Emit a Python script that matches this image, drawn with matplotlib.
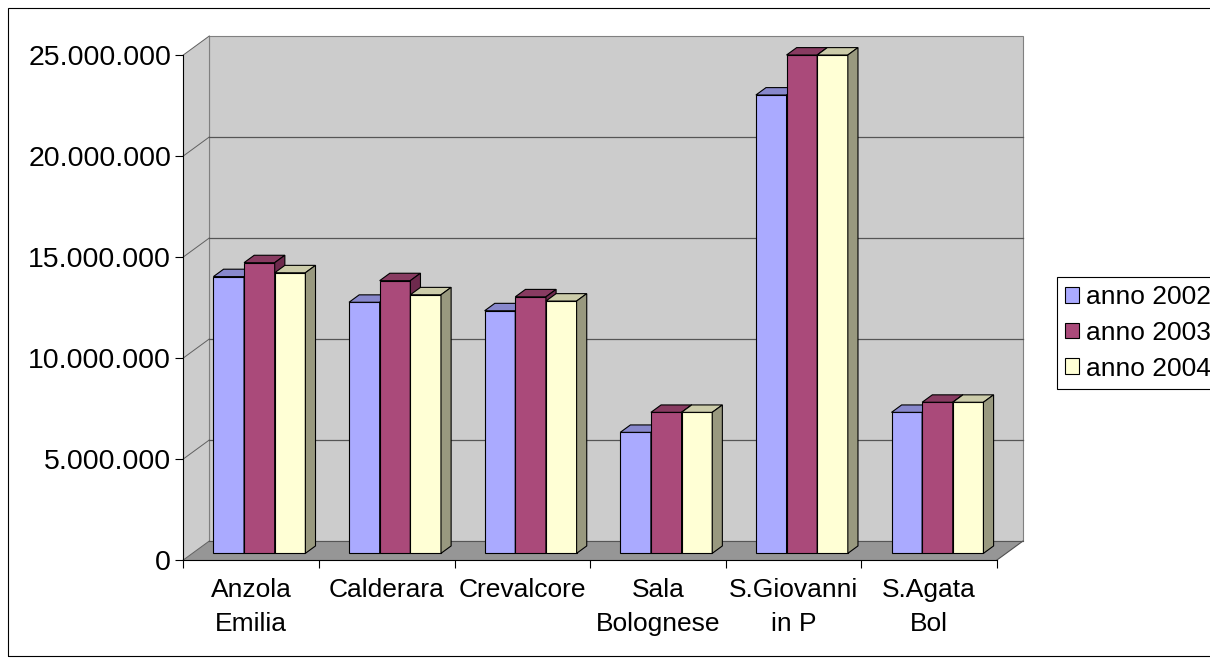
import matplotlib
matplotlib.use("Agg")
import matplotlib.pyplot as plt
from matplotlib.patches import Polygon, Patch, Rectangle
from matplotlib.lines import Line2D
from matplotlib.transforms import IdentityTransform
import numpy as np

plt.rcParams['font.family'] = ['Liberation Sans', 'DejaVu Sans']

# ---- data -------------------------------------------------------------
comuni = ["Anzola\nEmilia", "Calderara", "Crevalcore", "Sala\nBolognese",
          "S.Giovanni\nin P", "S.Agata\nBol"]
anno_2002 = [13_700_000, 12_430_000, 12_010_000, 5_990_000, 22_690_000, 6_980_000]
anno_2003 = [14_390_000, 13_500_000, 12_700_000, 6_980_000, 24_670_000, 7_480_000]
anno_2004 = [13_890_000, 12_800_000, 12_490_000, 6_980_000, 24_670_000, 7_480_000]
serie = ["anno 2002", "anno 2003", "anno 2004"]
y_ticks = [0, 5_000_000, 10_000_000, 15_000_000, 20_000_000, 25_000_000]

# ---- styling ------------------------------------------------------------
W, H, DPI = 1210, 664, 100
FS = 19
FS_Y = 20.5
front_cols = ["#AAAAFF", "#AA4A7A", "#FFFFD5"]
top_cols = ["#8888CC", "#883B61", "#CCCCAA"]
side_cols = ["#666699", "#6E2A4D", "#99997F"]
WALL = "#CCCCCC"
FLOOR = "#969696"
EDGE = "#808080"

DEPTH = np.array([26.0, 19.0])   # full depth offset in pixels (x right, y up)
F0, F1 = 0.35, 0.74              # bar depth span (fraction of depth)
BAR_W = 0.226
GAP = 0.155

fig = plt.figure(figsize=(W / DPI, H / DPI), dpi=DPI)
fig.patch.set_facecolor("white")
ax = fig.add_axes([183.3 / W, (H - 560) / H, (997 - 183.3) / W, (560 - 55) / H])
ax.set_facecolor("none")
ax.set_xlim(0, len(comuni))
ax.set_ylim(0, y_ticks[-1])

ident = IdentityTransform()


def proj(x, y, d):
    p = ax.transData.transform((x, y))
    return p + d * DEPTH


def poly(pts, fc, ec, lw=0.8, z=1):
    ax.add_patch(Polygon(np.array(pts), closed=True, facecolor=fc, edgecolor=ec,
                         linewidth=lw, transform=ident, clip_on=False, zorder=z))


def line(p, q, color, lw=0.8, z=1.5):
    ax.add_line(Line2D([p[0], q[0]], [p[1], q[1]], color=color, linewidth=lw,
                       transform=ident, clip_on=False, zorder=z))


n = len(comuni)
ymax = y_ticks[-1]
# back wall
poly([proj(0, 0, 1), proj(n, 0, 1), proj(n, ymax, 1), proj(0, ymax, 1)], WALL, EDGE)
# left side wall
poly([proj(0, 0, 0), proj(0, 0, 1), proj(0, ymax, 1), proj(0, ymax, 0)], WALL, "none")
# floor
poly([proj(0, 0, 0), proj(n, 0, 0), proj(n, 0, 1), proj(0, 0, 1)], FLOOR, "none")
line(proj(n, 0, 0), proj(n, 0, 1), "#505050")
line(proj(0, 0, 1), proj(0, ymax, 1), EDGE)

# gridlines on back wall and side wall
for v in y_ticks:
    line(proj(0, v, 0), proj(0, v, 1), "#606060", lw=0.7)
    if 0 < v < ymax:
        line(proj(0, v, 1), proj(n, v, 1), "#555555", lw=0.9)
line(proj(0, 0, 1), proj(n, 0, 1), "#555555", lw=0.8)

# bars
series_vals = [anno_2002, anno_2003, anno_2004]
for i in range(n):
    for k, vals in enumerate(series_vals):
        x0 = i + GAP + k * BAR_W
        x1 = x0 + BAR_W
        v = vals[i]
        # front
        poly([proj(x0, 0, F0), proj(x1, 0, F0), proj(x1, v, F0), proj(x0, v, F0)],
             front_cols[k], "black", z=3)
        # top
        poly([proj(x0, v, F0), proj(x1, v, F0), proj(x1, v, F1), proj(x0, v, F1)],
             top_cols[k], "black", z=3)
        # right side
        poly([proj(x1, 0, F0), proj(x1, 0, F1), proj(x1, v, F1), proj(x1, v, F0)],
             side_cols[k], "black", z=3)

# axes
for s in ("top", "right"):
    ax.spines[s].set_visible(False)
for s in ("left", "bottom"):
    ax.spines[s].set_color("black")
    ax.spines[s].set_linewidth(0.8)
    ax.spines[s].set_zorder(4)

ax.set_yticks(y_ticks)
ax.set_yticklabels([f"{v:,.0f}".replace(",", ".") for v in y_ticks], fontsize=FS_Y)
ax.tick_params(axis="y", direction="out", length=5.8, width=0.8, pad=3, colors="black")

ax.set_xticks(np.arange(n + 1))
ax.set_xticklabels([])
ax.tick_params(axis="x", which="major", direction="out", length=5.8, width=0.8)
ax.set_xticks(np.arange(n) + 0.5, minor=True)
ax.set_xticklabels(comuni, minor=True, fontsize=FS, linespacing=1.5)
ax.tick_params(axis="x", which="minor", length=0, pad=13)

# legend
handles = [Patch(facecolor=c, edgecolor="black", linewidth=0.8) for c in front_cols]
leg = fig.legend(handles, serie, loc="upper left",
                 bbox_to_anchor=(1057 / W, 1 - 277 / H), bbox_transform=fig.transFigure,
                 borderaxespad=0, fontsize=FS, frameon=True, fancybox=False,
                 edgecolor="black", framealpha=1, handlelength=0.55, handleheight=0.55,
                 handletextpad=0.25, labelspacing=0.45, borderpad=0.3)
leg.get_frame().set_linewidth(0.8)

# outer chart border
fig.add_artist(Rectangle((8 / W, 1 - 656 / H), 2.0, (656 - 8) / H, transform=fig.transFigure,
                         fill=False, edgecolor="black", linewidth=0.8))

fig.savefig("out.png", dpi=DPI)
